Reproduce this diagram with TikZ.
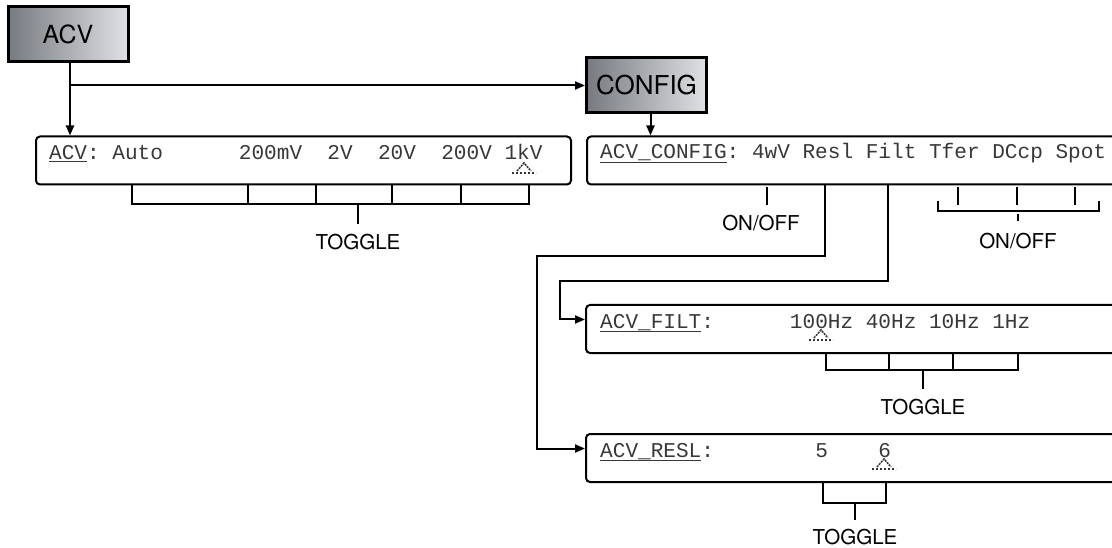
\documentclass[tikz,border=0pt]{standalone}
\usepackage{fontspec}
\setmainfont{TeX Gyre Heros}
\newfontfamily\lcdfont{Liberation Mono}
\usepackage{tikz}
\usetikzlibrary{arrows.meta, calc}
\definecolor{keydark}{RGB}{118,122,128}
\definecolor{keylight}{RGB}{224,225,228}

\begin{document}
\begin{tikzpicture}[
  x=1pt, y=-1pt,
  every node/.style={font=\fontsize{20.5}{24}\selectfont},
  key/.style={rectangle, draw, line width=3pt, left color=keydark, right color=keylight,
              minimum width=120pt, minimum height=55pt, inner sep=0pt},
  lcd/.style={rectangle, draw, line width=2pt, rounded corners=4pt, anchor=north west,
              minimum height=48pt, inner sep=0pt},
  lcdtext/.style={font=\lcdfont\fontsize{21.08}{22}\selectfont, text=black!78,
                  anchor=base west, inner sep=0pt},
  hint/.style={anchor=north, inner sep=0pt},
  wire/.style={line width=2pt},
  arrow/.style={line width=2pt, -{Triangle[length=10pt, width=8pt]}},
  caret/.pic={
    \draw[line width=1.5pt, dash pattern=on 2pt off 1pt, black!80] (-7,3) -- (0,-5) -- (7,3);
    \draw[line width=1.5pt, dash pattern=on 2pt off 2pt, black!80] (-12,5) -- (12,5);
  },
]
\useasboundingbox (0,0) rectangle (1112,548);
\clip (0,0) rectangle (1112,548);

% Keys
\node[key, font=\fontsize{25}{28}\selectfont] (acv) at (68,34.5) {ACV};
\node[key, font=\fontsize{26}{29}\selectfont] (config) at (646.5,85.5) {CONFIG};

% Displays
\node[lcd, minimum width=535pt] (disp1) at (35,135.5) {};
\node[lcd, minimum width=560pt] (disp2) at (586,135.5) {};
\node[lcd, minimum width=560pt] (disp3) at (585,304) {};
\node[lcd, minimum width=560pt] (disp4) at (585,433) {};

\node[lcdtext] (disp1text) at (49,159.5)
  {\underline{ACV}:~Auto~~~~~~200mV~~2V~~20V~~200V~1kV};
\node[lcdtext] (disp2text) at (600,159)
  {\underline{ACV\_CONFIG}:~4wV~Resl~Filt~Tfer~DCcp~Spot};
\node[lcdtext] (disp3text) at (600,328)
  {\underline{ACV\_FILT}:~~~~~~100Hz~40Hz~10Hz~1Hz};
\node[lcdtext] (disp4text) at (600,457)
  {\underline{ACV\_RESL}:~~~~~~~~5~~~~6};

\pic at (524,168) {caret};
\pic at (821,335) {caret};
\pic at (884,464) {caret};

% ACV -> display, branch to CONFIG
\coordinate (split) at ([xshift=2pt]acv.south |- config.west);
\draw[arrow] ([xshift=2pt]acv.south) -- ([xshift=2pt]acv.south |- disp1.north);
\draw[arrow] (split) -- (config.west);
\draw[arrow] ([xshift=4pt]config.south) -- ([xshift=4pt]config.south |- disp2.north);

% Resl and Filt
\coordinate (resl) at ($(disp2.south west)+(239,0)$);
\coordinate (filt) at ($(disp2.south west)+(302,0)$);
\coordinate (disp3in) at ($(disp3.north west)!0.31!(disp3.south west)$);
\coordinate (disp4in) at ($(disp4.north west)!0.31!(disp4.south west)$);
\draw[arrow] (resl) -- (825,256) -- (537,256) |- (disp4in);
\draw[arrow] (filt) -- (888,281) -- (560,281) |- (disp3in);

% Range keys
\draw[wire] (132,184) -- (132,204) -- (529,204) -- (529,184);
\foreach \x in {248,316,392,461}
  \draw[wire] (\x,184) -- (\x,204);
\node[hint] (toggle1) at (358,234) {TOGGLE};
\draw[wire] (358,204) -- ($(toggle1.north)+(0,-10)$);

% Config keys
\node[hint] (onoff1) at (761,215) {ON/OFF};
\draw[wire] (767,187) -- ($(onoff1.north)+(6,-10)$);
\draw[wire] (938,201) -- (938,211) -- (1099,211) -- (1099,201);
\foreach \x in {958,1017,1075}
  \draw[wire] (\x,187) -- (\x,205);
\node[hint] (onoff2) at (1018,233) {ON/OFF};
\draw[wire] (1018,214) -- ($(onoff2.north)+(0,-12)$);

% Filter keys
\draw[wire] (826,352) -- (826,370) -- (1018,370) -- (1018,352);
\foreach \x in {889,953}
  \draw[wire] (\x,352) -- (\x,370);
\node[hint] (toggle3) at (923,399) {TOGGLE};
\draw[wire] (923,370) -- ($(toggle3.north)+(0,-10)$);

% Resolution keys
\draw[wire] (823,481) -- (823,503) -- (886,503) -- (886,481);
\node[hint] (toggle4) at (855,529) {TOGGLE};
\draw[wire] (855,503) -- ($(toggle4.north)+(0,-9)$);

\end{tikzpicture}
\end{document}
